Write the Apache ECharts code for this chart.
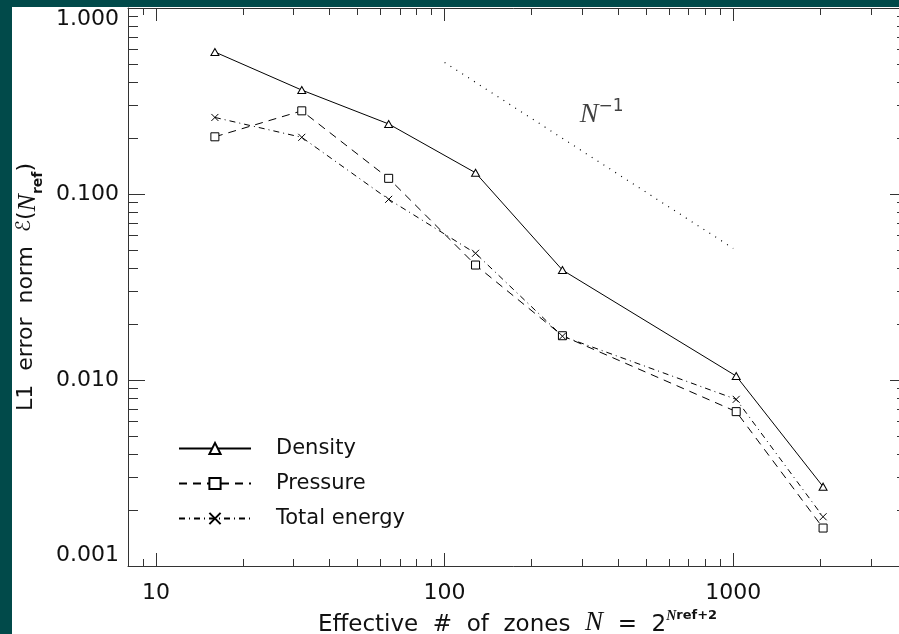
<!DOCTYPE html>
<html>
<head>
<meta charset="utf-8">
<script src="https://cdn.jsdelivr.net/npm/echarts@6/dist/echarts.min.js"></script>
<style>
  html, body { margin: 0; padding: 0; background: #014a4a; width: 899px; height: 634px; overflow: hidden; }
  #chart { position: absolute; left: 12px; top: 7px; width: 887px; height: 627px; background: #fff; }
</style>
</head>
<body>
<div id="chart"></div>
<script>
// data
const zones = [16, 32, 64, 128, 256, 1024, 2048];
const density = [0.58, 0.362, 0.238, 0.130, 0.039, 0.0105, 0.00267];
const pressure = [0.203, 0.280, 0.1214, 0.0415, 0.0173, 0.00676, 0.00160];
const energy = [0.258, 0.2017, 0.0936, 0.048, 0.0172, 0.00787, 0.00184];
// N^-1 reference slope
const refX = [100, 1000];
const refY = [0.51, 0.051];
const refLabelAt = [350, 0.272];

// tick values
const xMajor = [10, 100, 1000];
const xMinor = [9, 20, 30, 40, 50, 60, 70, 80, 90, 200, 300, 400, 500, 600, 700, 800, 900, 2000, 3000];
const yMajor = [0.001, 0.01, 0.1, 1];
const yMinor = [0.002, 0.003, 0.004, 0.005, 0.006, 0.007, 0.008, 0.009,
                0.02, 0.03, 0.04, 0.05, 0.06, 0.07, 0.08, 0.09,
                0.2, 0.3, 0.4, 0.5, 0.6, 0.7, 0.8, 0.9];

const FONT = 'DejaVu Sans';
const INK = '#111';
const AXIS = '#333';

const pairs = (xs, ys) => xs.map((x, i) => [x, ys[i]]);

const chart = echarts.init(document.getElementById('chart'));

// one axis per side for major ticks, one overlaid for minor ticks
function xAx(pos, ticks, len, withLine, withLabel) {
    return {
        type: 'log', logBase: 10, min: 8, max: 4000, position: pos, offset: 0,
        axisLine: { show: withLine, lineStyle: { color: AXIS, width: 1 } },
        axisTick: { show: true, inside: true, length: len, customValues: ticks, lineStyle: { color: AXIS, width: 1 } },
        axisLabel: withLabel ? {
            show: true, customValues: xMajor, margin: 16, color: INK, fontFamily: FONT, fontSize: 22,
            formatter: v => String(Math.round(v))
        } : { show: false },
        splitLine: { show: false },
        minorTick: { show: false }
    };
}
function yAx(pos, ticks, len, withLine, withLabel) {
    return {
        type: 'log', logBase: 10, min: 0.001, max: 1, position: pos, offset: 0,
        axisLine: { show: withLine, lineStyle: { color: AXIS, width: 1 } },
        axisTick: { show: true, inside: true, length: len, customValues: ticks, lineStyle: { color: AXIS, width: 1 } },
        axisLabel: withLabel ? {
            show: true, customValues: yMajor, margin: 9, color: INK, fontFamily: FONT, fontSize: 22,
            verticalAlignMinLabel: 'bottom', verticalAlignMaxLabel: 'top',
            formatter: v => v.toFixed(3)
        } : { show: false },
        splitLine: { show: false },
        minorTick: { show: false }
    };
}

const xAxes = [
    xAx('bottom', xMajor, 13, true, true),
    xAx('bottom', xMinor, 7, false, false),
    xAx('top', xMajor, 13, true, false),
    xAx('top', xMinor, 7, false, false)
];
xAxes[0].name = '{t|Effective  #  of  zones  }{n|N}{t|  =  2}{sn|N}{sup|ref+2}';
xAxes[0].nameLocation = 'middle';
xAxes[0].nameGap = 36;
xAxes[0].nameTextStyle = {
    color: INK,
    rich: {
        t: { fontFamily: FONT, fontSize: 23, color: INK, verticalAlign: 'bottom', lineHeight: 28 },
        n: { fontFamily: 'Liberation Serif', fontStyle: 'italic', fontSize: 27, color: INK, verticalAlign: 'bottom', lineHeight: 28 },
        sn: { fontFamily: 'Liberation Serif', fontStyle: 'italic', fontWeight: 'bold', fontSize: 14, color: INK, verticalAlign: 'top', lineHeight: 28 },
        sup: { fontFamily: FONT, fontSize: 13, fontWeight: 'bold', color: INK, verticalAlign: 'top', lineHeight: 28 }
    }
};

const yAxes = [
    yAx('left', yMajor, 17, true, true),
    yAx('left', yMinor, 10, false, false),
    yAx('right', yMajor, 17, true, false),
    yAx('right', yMinor, 10, false, false)
];
yAxes[0].name = '{t|L1  error  norm  }{e|ℰ}{t|(}{n|N}{sub|ref}{t|)}';
yAxes[0].nameLocation = 'middle';
yAxes[0].nameRotate = 90;
yAxes[0].nameGap = 80;
yAxes[0].nameTextStyle = {
    color: INK,
    rich: {
        t: { fontFamily: FONT, fontSize: 22, color: INK, verticalAlign: 'top', lineHeight: 30 },
        e: { fontFamily: FONT, fontSize: 20, color: INK, verticalAlign: 'top', lineHeight: 30 },
        n: { fontFamily: 'Liberation Serif', fontStyle: 'italic', fontSize: 26, color: INK, verticalAlign: 'top', lineHeight: 30 },
        sub: { fontFamily: FONT, fontSize: 14, fontWeight: 'bold', color: INK, verticalAlign: 'bottom', lineHeight: 30 }
    }
};

const crossPath = 'path://M0,0L10,10M10,0L0,10';

const option = {
    backgroundColor: '#fff',
    animation: false,
    grid: { left: 116, top: 1, right: -8, bottom: 68, containLabel: false, outerBoundsMode: 'none' },
    xAxis: xAxes,
    yAxis: yAxes,
    legend: {
        orient: 'vertical',
        left: 166,
        top: 431,
        padding: 0,
        itemWidth: 72,
        itemHeight: 14,
        itemGap: 14,
        textStyle: { fontFamily: FONT, fontSize: 21, color: INK, padding: [0, 0, 0, 20] },
        data: ['Density', 'Pressure', 'Total energy']
    },
    series: [
        {
            name: 'Density', type: 'line', data: pairs(zones, density),
            symbol: 'triangle', symbolSize: [8, 7],
            lineStyle: { color: '#000', width: 1, type: 'solid' },
            itemStyle: { color: '#fff', borderColor: '#000', borderWidth: 1 }
        },
        {
            name: 'Pressure', type: 'line', data: pairs(zones, pressure),
            symbol: 'rect', symbolSize: 8,
            lineStyle: { color: '#000', width: 1, type: [8, 6] },
            itemStyle: { color: '#fff', borderColor: '#000', borderWidth: 1 }
        },
        {
            name: 'Total energy', type: 'line', data: pairs(zones, energy),
            symbol: crossPath, symbolSize: 7,
            lineStyle: { color: '#000', width: 1, type: [6, 4, 1, 4] },
            itemStyle: { color: 'none', borderColor: '#000', borderWidth: 1 }
        },
        {
            name: 'N^-1', type: 'line', data: pairs(refX, refY),
            symbol: 'none',
            lineStyle: { color: '#000', width: 1.2, type: [1, 6] },
            silent: true
        },
        {
            name: 'label', type: 'scatter', data: [refLabelAt],
            symbolSize: 0, silent: true,
            label: {
                show: true, position: 'inside',
                formatter: '{n|N}{s|−1}',
                rich: {
                    n: { fontFamily: 'Liberation Serif', fontStyle: 'italic', fontSize: 28, color: INK, verticalAlign: 'bottom', lineHeight: 30 },
                    s: { fontFamily: FONT, fontSize: 17, color: INK, verticalAlign: 'top', lineHeight: 30 }
                }
            }
        }
    ]
};

chart.setOption(option);
</script>
</body>
</html>
